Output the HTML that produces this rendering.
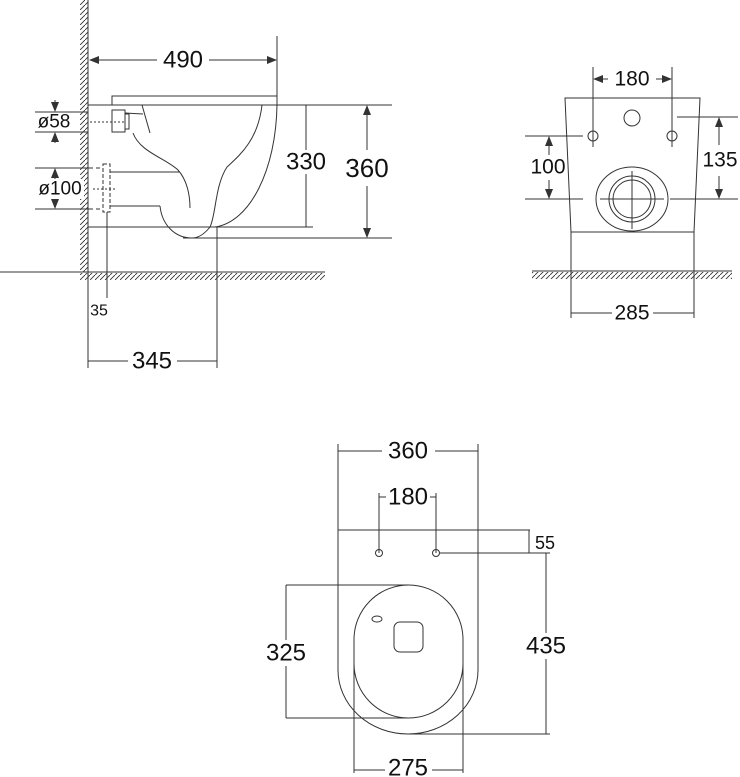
<!DOCTYPE html>
<html><head><meta charset="utf-8"><style>
html,body{margin:0;padding:0;background:#fff;}
svg{display:block;}
text{font-family:"Liberation Sans",Arial,sans-serif;fill:#111;}
</style></head><body>
<svg width="740" height="777" viewBox="0 0 740 777" xmlns="http://www.w3.org/2000/svg">
<defs>
<pattern id="hv" width="5" height="5" patternUnits="userSpaceOnUse">
<line x1="0" y1="5" x2="5" y2="0" stroke="#333" stroke-width="0.9"/>
</pattern>
<marker id="a" markerWidth="10" markerHeight="8" refX="9" refY="4" orient="auto" markerUnits="userSpaceOnUse">
<path d="M0,0 L10,4 L0,8 Z" fill="#333"/>
</marker>
</defs>
<g stroke="#333" stroke-width="1" fill="none">
<!-- SIDE VIEW -->
<rect x="80" y="0" width="8" height="272" fill="url(#hv)" stroke="none"/>
<line x1="88" y1="0" x2="88" y2="272"/>
<line x1="0" y1="272" x2="325" y2="272"/>
<rect x="80" y="273" width="245" height="7" fill="url(#hv)" stroke="none"/>
<line x1="277" y1="36" x2="277" y2="105"/>
<line x1="157" y1="60" x2="90" y2="60" marker-end="url(#a)"/>
<line x1="209" y1="60" x2="276" y2="60" marker-end="url(#a)"/>
<path d="M112 105 V96 H277 V105"/>
<line x1="88" y1="105" x2="392" y2="105"/>
<rect x="112" y="110" width="13" height="22"/>
<rect x="125" y="114" width="4" height="15"/>
<line x1="90" y1="122" x2="125" y2="122" stroke-dasharray="2,2"/>
<line x1="125" y1="113" x2="143" y2="114"/>
<line x1="142" y1="105" x2="150" y2="133"/>
<path d="M133 133 C 140 152, 165 158, 178 170 C 187 180, 190 195, 190 208"/>
<path d="M262 105 C 258 140, 240 155, 227 167 C 215 185, 216 215, 210 227"/>
<path d="M277 105 C 276 170, 250 222, 215 227"/>
<path d="M160 206 C 162 225, 175 238, 192 238 C 200 238, 206 232, 210 227"/>
<line x1="88" y1="227" x2="313" y2="227"/>
<line x1="183" y1="238" x2="392" y2="238"/>
<line x1="35" y1="112" x2="88" y2="112"/>
<line x1="35" y1="132" x2="88" y2="132"/>
<line x1="55" y1="100" x2="55" y2="111" marker-end="url(#a)"/>
<line x1="55" y1="143" x2="55" y2="133" marker-end="url(#a)"/>
<line x1="35" y1="168" x2="88" y2="168"/>
<line x1="35" y1="209" x2="88" y2="209"/>
<line x1="88" y1="168" x2="100" y2="168" stroke-dasharray="5,3"/>
<line x1="88" y1="209" x2="100" y2="209" stroke-dasharray="5,3"/>
<line x1="55" y1="180" x2="55" y2="169" marker-end="url(#a)"/>
<line x1="55" y1="196" x2="55" y2="208" marker-end="url(#a)"/>
<rect x="103" y="164" width="7" height="48" stroke-dasharray="4,2"/>
<line x1="93" y1="189" x2="117" y2="189" stroke-dasharray="2,2"/>
<line x1="110" y1="172" x2="180" y2="172"/>
<line x1="110" y1="206" x2="160" y2="206"/>
<line x1="306" y1="105" x2="306" y2="227"/>
<line x1="367" y1="150" x2="367" y2="106" marker-end="url(#a)"/>
<line x1="367" y1="186" x2="367" y2="237" marker-end="url(#a)"/>
<line x1="107" y1="212" x2="107" y2="298"/>
<line x1="88" y1="272" x2="88" y2="368"/>
<line x1="217" y1="227" x2="217" y2="368"/>
<line x1="88" y1="361" x2="128" y2="361"/>
<line x1="177" y1="361" x2="217" y2="361"/>

<!-- FRONT VIEW -->
<path d="M565 98 H700 L694 232 H571 Z"/>
<line x1="571" y1="232" x2="571" y2="318"/>
<line x1="694" y1="232" x2="694" y2="318"/>
<line x1="532" y1="271" x2="732" y2="271"/>
<rect x="532" y="272" width="200" height="7" fill="url(#hv)" stroke="none"/>
<circle cx="593" cy="136" r="5"/>
<circle cx="672" cy="136" r="5"/>
<circle cx="632" cy="118" r="8"/>
<line x1="593" y1="67" x2="593" y2="147"/>
<line x1="672" y1="67" x2="672" y2="147"/>
<line x1="608" y1="79" x2="594" y2="79" marker-end="url(#a)"/>
<line x1="656" y1="79" x2="671" y2="79" marker-end="url(#a)"/>
<ellipse cx="632" cy="199" rx="36" ry="32"/>
<circle cx="632" cy="199" r="23"/>
<circle cx="632" cy="199" r="19"/>
<line x1="600" y1="199" x2="664" y2="199"/>
<line x1="632" y1="171" x2="632" y2="229"/>
<line x1="525" y1="136" x2="583" y2="136"/>
<line x1="525" y1="199" x2="583" y2="199"/>
<line x1="549" y1="155" x2="549" y2="137" marker-end="url(#a)"/>
<line x1="549" y1="180" x2="549" y2="198" marker-end="url(#a)"/>
<line x1="677" y1="117" x2="738" y2="117"/>
<line x1="670" y1="199" x2="738" y2="199"/>
<line x1="719" y1="145" x2="719" y2="118" marker-end="url(#a)"/>
<line x1="719" y1="176" x2="719" y2="198" marker-end="url(#a)"/>
<line x1="571" y1="313" x2="612" y2="313"/>
<line x1="653" y1="313" x2="694" y2="313"/>

<!-- TOP VIEW -->
<line x1="338" y1="444" x2="338" y2="530"/>
<line x1="478" y1="444" x2="478" y2="530"/>
<line x1="338" y1="451" x2="382" y2="451"/>
<line x1="435" y1="451" x2="478" y2="451"/>
<line x1="379" y1="493" x2="379" y2="553"/>
<line x1="436" y1="493" x2="436" y2="553"/>
<line x1="379" y1="497" x2="386" y2="497"/>
<line x1="430" y1="497" x2="436" y2="497"/>
<path d="M338 530 H478 V670 A70 64 0 0 1 338 670 Z"/>
<circle cx="379" cy="553" r="3.5"/>
<circle cx="436" cy="553" r="3.5"/>
<rect x="354" y="585" width="109" height="133" rx="54.5" ry="54.5"/>
<rect x="394" y="622" width="29" height="30" rx="6"/>
<ellipse cx="377" cy="619" rx="5" ry="3"/>
<line x1="478" y1="530" x2="530" y2="530"/>
<line x1="440" y1="553" x2="550" y2="553"/>
<line x1="529" y1="530" x2="529" y2="553"/>
<line x1="546" y1="553" x2="546" y2="734"/>
<line x1="408" y1="734" x2="550" y2="734"/>
<line x1="286" y1="585" x2="286" y2="718"/>
<line x1="286" y1="585" x2="408" y2="585"/>
<line x1="286" y1="718" x2="408" y2="718"/>
<line x1="354" y1="640" x2="354" y2="773"/>
<line x1="463" y1="640" x2="463" y2="773"/>
<line x1="354" y1="770" x2="385" y2="770"/>
<line x1="432" y1="770" x2="463" y2="770"/>
</g>
<g fill="#fff" stroke="none">
<rect x="286" y="150" width="40" height="24"/>
<rect x="345" y="154" width="44" height="28"/>
<rect x="265" y="640" width="42" height="26"/>
<rect x="525" y="633" width="42" height="26"/>
<rect x="36" y="113" width="36" height="18"/>
<rect x="36" y="179" width="48" height="20"/>
</g>
<g font-size="24" text-anchor="middle" dominant-baseline="central">
<text x="183" y="60">490</text>
<text x="306" y="162">330</text>
<text x="367" y="168" font-size="26">360</text>
<text x="152" y="361">345</text>
<text x="99" y="311" font-size="16">35</text>
<text x="54" y="122" font-size="19">ø58</text>
<text x="60" y="189" font-size="19">ø100</text>
<text x="632" y="79" font-size="21">180</text>
<text x="548" y="167" font-size="21">100</text>
<text x="720" y="160" font-size="21">135</text>
<text x="632" y="313" font-size="21">285</text>
<text x="408" y="451">360</text>
<text x="408" y="497">180</text>
<text x="545" y="543" font-size="18">55</text>
<text x="546" y="646">435</text>
<text x="286" y="653">325</text>
<text x="408" y="768">275</text>
</g>
</svg>
</body></html>
